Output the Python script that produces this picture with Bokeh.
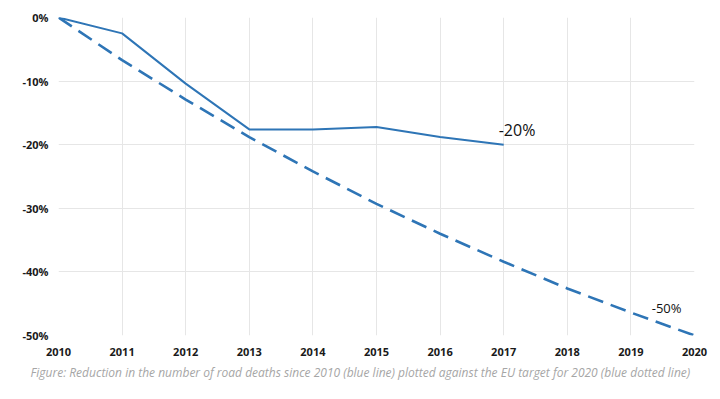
from bokeh.plotting import figure
from bokeh.models import FixedTicker, Label, Range1d, Title
from bokeh.embed import file_html
from bokeh.resources import INLINE

years = [2010, 2011, 2012, 2013, 2014, 2015, 2016, 2017]
actual = [0, -2.5, -10.4, -17.6, -17.6, -17.2, -18.8, -20.0]
target_years = [2010, 2011, 2012, 2013, 2014, 2015, 2016, 2017, 2018, 2019, 2020]
target = [0, -6.7, -12.9, -18.8, -24.2, -29.3, -34.0, -38.4, -42.6, -46.4, -50.0]
y_ticks = [0, -10, -20, -30, -40, -50]
y_labels = ["0%", "-10%", "-20%", "-30%", "-40%", "-50%"]
x_ticks = target_years
caption = "Figure: Reduction in the number of road deaths since 2010 (blue line) plotted against the EU target for 2020 (blue dotted line)"

BLUE = "#2e75b6"
FONT = "Open Sans"

p = figure(width=712, height=383, output_backend="svg", toolbar_location=None,
           x_range=Range1d(2010, 2020), y_range=Range1d(-50, 0),
           min_border_left=58, min_border_right=18, min_border_top=17, min_border_bottom=10)
p.outline_line_color = None
p.background_fill_color = "white"

p.line(target_years, target, line_color=BLUE, line_width=2.6, line_dash="16 8")
p.line(years, actual, line_color=BLUE, line_width=2)

for ax in (p.xaxis, p.yaxis):
    ax.axis_line_color = None
    ax.major_tick_line_color = None
    ax.minor_tick_line_color = None
    ax.major_label_text_font = FONT
    ax.major_label_text_font_style = "bold"
    ax.major_label_text_font_size = "11px"
    ax.major_label_text_color = "#1a1a1a"

p.xaxis.ticker = FixedTicker(ticks=x_ticks)
p.xaxis.major_label_overrides = {t: str(t) for t in x_ticks}
p.xaxis.major_label_standoff = 6
p.yaxis.ticker = FixedTicker(ticks=y_ticks)
p.yaxis.major_label_overrides = {t: l for t, l in zip(y_ticks, y_labels)}
p.yaxis.major_label_standoff = 4

p.xgrid.grid_line_color = "#e6e6e6"
p.ygrid.grid_line_color = "#e6e6e6"
p.xgrid.ticker = FixedTicker(ticks=x_ticks)
p.ygrid.ticker = FixedTicker(ticks=y_ticks)

p.add_layout(Label(x=years[-1], y=actual[-1], text=y_labels[2], text_font=FONT,
                   text_font_size="16px", text_color="#111111",
                   x_offset=-5, y_offset=4))
p.add_layout(Label(x=2019.5, y=-45, text=y_labels[5], text_font=FONT,
                   text_font_size="13px", text_color="#111111",
                   x_offset=-11, y_offset=-4, text_baseline="middle"))

p.add_layout(Title(text=caption, align="left", offset=-28, text_font=FONT,
                   text_font_style="italic", text_font_size="12px",
                   text_color="#a6a6a6", standoff=6), "below")

open("out.html", "w").write(file_html(p, INLINE))
